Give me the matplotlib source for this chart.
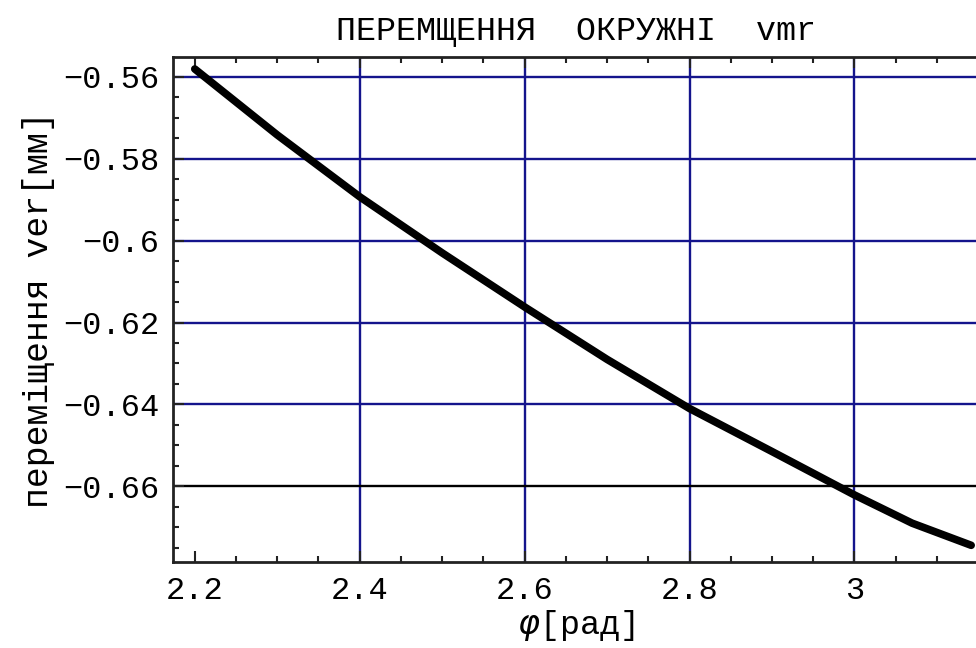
import numpy as np
import matplotlib
matplotlib.use("Agg")
import matplotlib.pyplot as plt
from matplotlib.ticker import FixedLocator, MultipleLocator

# values
phi = [2.2, 2.3, 2.4, 2.5, 2.6, 2.7, 2.8, 2.9, 3.0, 3.07, 3.1416]
ver = [-0.5581, -0.5742, -0.5893, -0.6030, -0.6162, -0.6290, -0.6410,
       -0.6515, -0.6621, -0.6690, -0.6744]

xticks = [2.2, 2.4, 2.6, 2.8, 3.0]
xlabels = ["2.2", "2.4", "2.6", "2.8", "3"]
yticks = [-0.56, -0.58, -0.60, -0.62, -0.64, -0.66]
ylabels = ["\u22120.56", "\u22120.58", "\u22120.6", "\u22120.62", "\u22120.64", "\u22120.66"]
xgrid = [2.4, 2.6, 2.8, 3.0]
ygrid_blue = [-0.56, -0.58, -0.60, -0.62, -0.64]
ygrid_black = [-0.66]

mono = "Liberation Mono"
navy = "#14148c"

fig = plt.figure(figsize=(9.76, 6.48), dpi=100)
ax = fig.add_axes([0.1776, 0.1332, 0.8254, 0.7793])

for g in xgrid:
    ax.axvline(g, color=navy, lw=1.7, zorder=1)
for g in ygrid_blue:
    ax.axhline(g, color=navy, lw=1.7, zorder=1)
for g in ygrid_black:
    ax.axhline(g, color="black", lw=1.7, zorder=1)

ax.plot(phi, ver, color="black", lw=5.5, solid_capstyle="round", zorder=3)

ax.set_xlim(2.174, 3.151)
ax.set_ylim(-0.6784, -0.5551)

ax.xaxis.set_major_locator(FixedLocator(xticks))
ax.set_xticklabels(xlabels)
ax.xaxis.set_minor_locator(MultipleLocator(0.05))
ax.yaxis.set_major_locator(FixedLocator(yticks))
ax.set_yticklabels(ylabels)
ax.yaxis.set_minor_locator(MultipleLocator(0.005))

ax.tick_params(which="both", direction="in", top=True, right=False,
               width=1.5, color="#222222")
ax.tick_params(which="major", length=8, labelsize=23, pad=10)
ax.tick_params(which="minor", length=4)
for lab in ax.get_xticklabels() + ax.get_yticklabels():
    lab.set_fontfamily(mono)

for s in ["left", "bottom", "top"]:
    ax.spines[s].set_linewidth(2)
    ax.spines[s].set_color("#222222")
ax.spines["right"].set_visible(False)

ax.set_title("ПЕРЕМЩЕННЯ  ОКРУЖНІ  vmr", fontfamily=mono, fontsize=24, pad=12)
ax.set_ylabel("переміщення ver[мм]", fontfamily=mono, fontsize=25, labelpad=6)
ax.set_xlabel(r"$\varphi$[рад]", fontfamily=mono, fontsize=24, labelpad=2)

fig.savefig("out.png", dpi=100)
